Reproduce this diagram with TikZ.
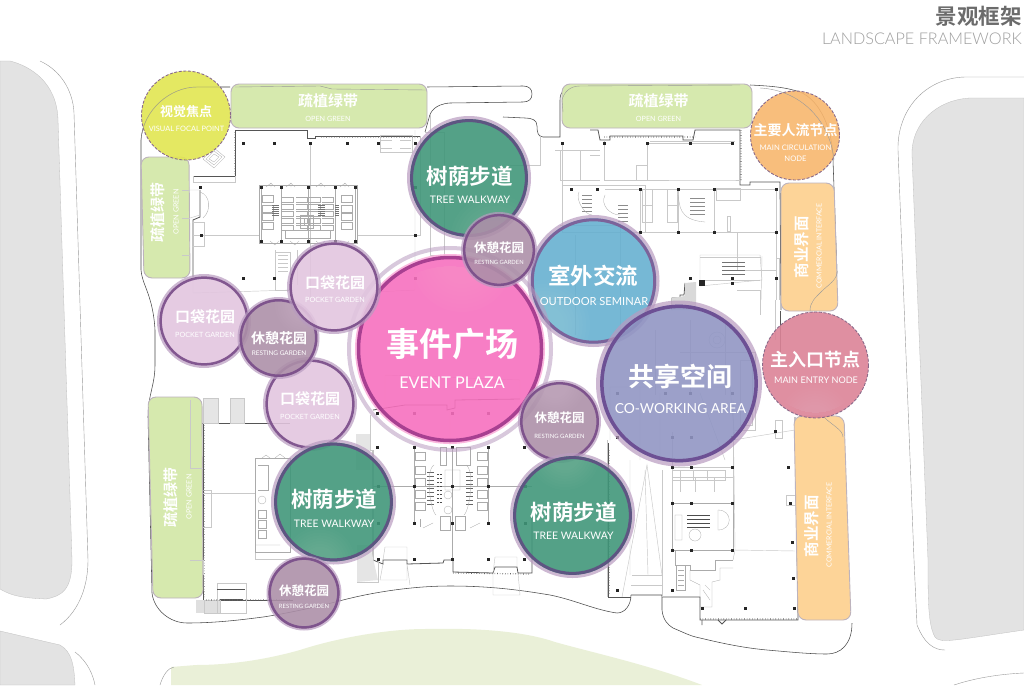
\documentclass[tikz,border=0pt]{standalone}
\usepackage{fontspec}
\newfontfamily\cjk{Noto Sans CJK SC}[BoldFont={Noto Sans CJK SC Bold}]
\newfontfamily\enf{Lato}
\newfontfamily\enl{Lato Light}
\usetikzlibrary{calc}
\definecolor{roadgray}{HTML}{E3E3E3}
\definecolor{parkgreen}{HTML}{EAF0D8}
\definecolor{plangray}{HTML}{C9C9C9}
\definecolor{wallgray}{HTML}{555555}
\definecolor{sitegray}{HTML}{4A4A4A}
\definecolor{barg}{HTML}{D6E9AE}
\definecolor{barc}{HTML}{FDD498}
\definecolor{barline}{HTML}{BDB3BD}
\definecolor{cyel}{HTML}{E2E652}
\definecolor{cora}{HTML}{F8B76E}
\definecolor{cent}{HTML}{DC8397}
\definecolor{cgrn}{HTML}{3F9679}
\definecolor{cres}{HTML}{AC8FA8}
\definecolor{cpoc}{HTML}{E2C5DF}
\definecolor{cpnk}{HTML}{F76FBE}
\definecolor{cblu}{HTML}{66B0D0}
\definecolor{cvio}{HTML}{9095C3}
\definecolor{rngv}{HTML}{7A4E8A}
\definecolor{rngg}{HTML}{5F4F82}
\definecolor{rngp}{HTML}{A23B8D}
\definecolor{rngc}{HTML}{7D5C96}
\definecolor{rngw}{HTML}{6A4A90}
\definecolor{halo}{HTML}{B89BC0}
\definecolor{dashc}{HTML}{8A6A8A}
\tikzset{
  plan/.style={draw=plangray,line width=.45pt},
  planthin/.style={draw=plangray!85!black,line width=.3pt},
  wall/.style={draw=wallgray,line width=.8pt},
  site/.style={draw=sitegray,line width=.55pt},
  sitefaint/.style={draw=gray!80,line width=.4pt},
  road/.style={fill=roadgray,draw=gray!50,line width=.3pt},
  column/.style={fill=black!85},
  bargreen/.style={fill=barg,draw=barline,line width=.9pt,rounded corners=8pt},
  barcomm/.style={fill=barc,draw=barline,line width=.9pt,rounded corners=8pt},
  zh/.style={text=white,inner sep=0pt,font=\cjk\bfseries\fontsize{#1}{#1}\selectfont},
  en/.style={text=white,inner sep=0pt,font=\enf\fontsize{#1}{#1}\selectfont},
  ttl/.style={inner sep=0pt,anchor=east}
}
% bubble: x y r fill ring ringwidth
\newcommand{\bub}[6]{%
  \fill[halo,fill opacity=.7,even odd rule] (#1,#2) circle (#3) circle (#3*.93);
  \fill[#4,fill opacity=.89] (#1,#2) circle (#3*.95);
  \draw[#5,line width=#6pt,draw opacity=.92] (#1,#2) circle (#3*.95-#6/2);
}
\newcommand{\dbub}[4]{%
  \fill[#4,fill opacity=.9] (#1,#2) circle (#3);
  \draw[dashc,line width=.9pt,dash pattern=on 3pt off 1.6pt] (#1,#2) circle (#3);
}
% soft glow clipped to circle: cx cy r gx gy gr
\newcommand{\glow}[6]{%
  \begin{scope}
    \clip (#1,#2) circle (#3*.9);
    \foreach \q in {1,.92,.84,.76,.68,.6,.52,.44}{\fill[white,fill opacity=.016] (#4,#5) circle (#6*\q);}
  \end{scope}
}
\newcommand{\colsat}[2]{\foreach \cx in {#2}{\fill[column] (\cx-1.5,#1-1.5) rectangle (\cx+1.5,#1+1.5);}}
\begin{document}
\begin{tikzpicture}[x=1pt,y=-1pt]
\useasboundingbox (0,0) rectangle (1024,685);
\fill[white] (0,0) rectangle (1024,685);

% roads and surrounding blocks
\path[road] (0,61) -- (10,61) .. controls (30,66) and (57,82) .. (58,120) -- (72,560) .. controls (72,590) and (62,596) .. (46,599) .. controls (30,598) and (15,598) .. (0,589) -- cycle;
\path[road] (0,631) -- (60,645) .. controls (72,652) and (74,665) .. (75,685) -- (0,685) -- cycle;
\path[road] (1024,98) -- (970,98) .. controls (935,100) and (911,125) .. (912,155) -- (928,560) .. controls (928,600) and (928,625) .. (935,637) .. controls (940,644) and (955,640) .. (1024,630) -- cycle;
\fill[parkgreen] (171,685) -- (171,667) -- (196,665) .. controls (225,665) and (261,661) .. (300,650) .. controls (340,637) and (390,629) .. (425,629) .. controls (470,628) and (520,630) .. (555,642) .. controls (590,652) and (650,665) .. (702,685) -- cycle;
\draw[sitefaint] (160,685) .. controls (163,675) and (168,668) .. (174,667);
\draw[sitefaint] (40,61) .. controls (60,70) and (73,90) .. (74,113) -- (88,560) .. controls (88,585) and (80,610) .. (60,625);
\draw[sitefaint] (75,652) .. controls (88,662) and (93,675) .. (95,685);
\draw[sitefaint] (1024,77) -- (965,77) .. controls (925,78) and (897,110) .. (898,150) -- (914,560) -- (917,625) .. controls (925,645) and (935,650) .. (945,650);
\draw[sitefaint] (954,685) .. controls (975,678) and (1000,674) .. (1024,673);

% site outline
\draw[site] (230,87) -- (197,87) .. controls (170,87) and (143,110) .. (141,140) -- (141,270) .. controls (142,285) and (153,295) .. (155,330) -- (155,365) .. controls (155,385) and (148,395) .. (148,417) -- (152,593) .. controls (154,610) and (170,623) .. (187,623) .. controls (215,623) and (240,620) .. (263,617) .. controls (290,613) and (320,606) .. (343,600) .. controls (370,593) and (410,586) .. (450,586) .. controls (490,586) and (520,590) .. (550,595) .. controls (575,600) and (595,610) .. (617,613) .. controls (625,613) and (631,605) .. (631,595);
\draw[site] (631,595) -- (662,595) -- (662,610) .. controls (663,620) and (668,625) .. (673,628) .. controls (685,633) and (690,636) .. (700,638) .. controls (725,644) and (745,648) .. (767,650) .. controls (790,652) and (810,654) .. (827,654) .. controls (840,654) and (852,645) .. (852,623);
\draw[site] (825,418) .. controls (832,425) and (843,430) .. (843,437);
\draw[site] (810,311) .. controls (810,302) and (815,298) .. (822,291) .. controls (828,285) and (837,280) .. (837,272) -- (833,160) .. controls (833,130) and (820,100) .. (800,92) .. controls (785,87) and (770,86) .. (750,85);
\draw[site] (573,86) .. controls (565,86) and (560,92) .. (560,100) -- (560,137) -- (543,137) .. controls (538,137) and (537,132) .. (537,126) .. controls (537,120) and (532,118) .. (525,118) -- (503,117);
\draw[site] (427,87) -- (523,86) .. controls (529,86) and (532,89) .. (532,94) .. controls (532,99) and (529,102) .. (523,102) -- (450,103) .. controls (435,104) and (430,112) .. (429,118) -- (425,132);
\draw[site] (565,86) -- (745,85);

% plan: walls
\draw[wall] (235,130) -- (307,130) -- (307,138) -- (315,138) -- (315,136) -- (420,136);
\draw[wall] (235,130) -- (235,176) -- (193,176);
\draw[plan] (193,176) -- (193,182) -- (235,182) -- (235,176);
\draw[wall] (200,190) -- (200,217) -- (193,220) -- (193,277);
\draw[wall] (590,130) -- (598,130) -- (600,140) -- (610,140) -- (610,136) -- (683,136) -- (683,140) -- (693,140) -- (695,130) -- (740,130) -- (740,185) -- (750,185) -- (750,182) -- (780,182) -- (781,310);
\draw[wall] (202,423) -- (290,423);
\draw[wall] (203,423) -- (203,600) -- (293,600);
\draw[wall] (373,450) -- (373,560) -- (383,564) -- (383,560) -- (407,560) -- (407,564) -- (443,563) -- (444,560) -- (453,560) -- (453,572) -- (493,573) -- (495,567) -- (517,567) -- (518,573) -- (532,573) -- (532,517);
\draw[wall] (608,443) -- (608,597) -- (631,597);
\draw[wall] (662,597) -- (700,597) -- (700,620) -- (798,620) -- (795,417);
\draw[wall] (780,311) -- (780,360);
\draw[wall] (685,283) -- (684,295) -- (680,295) -- (680,298) -- (672,298) -- (672,310);
\fill[gray!30] (685,283) -- (696,282) -- (696,310) -- (672,310) -- (672,298) -- (685,296) -- cycle;
% walls and rooms seen through the big bubbles
\draw[wall] (373,410) -- (405,405) -- (447,405) -- (447,410) -- (455,408) -- (455,400) -- (520,399);
\draw[plan] (385,375) -- (520,380) -- (520,399) (385,375) -- (385,405) (450,399) -- (450,445);
\draw[plan] (610,387) -- (730,387) -- (735,440) (610,387) -- (610,440) (640,387) -- (640,460) (660,393) -- (660,460) (700,393) -- (725,460);
\draw[plan] (655,330) -- (655,395) (690,320) -- (690,395) (725,320) -- (725,395);
\draw[plan] (717,340) circle (8) (717,340) circle (4);
\draw[plan] (560,225) -- (620,225) -- (620,340) (575,235) -- (575,335) (540,300) -- (620,300);
\draw[plan] (680,352) -- (755,352) -- (755,430) -- (735,430);
\draw[plan] (740,360) rectangle (752,425);

% plan: light building lines
\draw[plan] (310,143) -- (310,300);
\draw[plan] (193,235) -- (259,235) (357,235) -- (420,235) -- (420,136);
\draw[plan] (415,130) -- (415,290) -- (375,292) (293,290) -- (193,293) -- (193,277);
\draw[plan] (430,115) -- (430,255) -- (444,255) -- (444,132) -- (425,132);
\draw[plan] (430,170) -- (460,170) (510,165) -- (540,165) -- (540,135);
\draw[plan] (380,135) -- (412,135) -- (412,152) -- (380,152) -- cycle;
\draw[plan] (381,140) -- (392,140) (400,140) -- (411,140) (381,148) -- (392,148) (400,148) -- (411,148);
% left stair
\draw[planthin] (203,159) -- (214,168) -- (225,157) -- (214,148) -- cycle (206,159) -- (214,165) -- (222,157) -- (214,151) -- cycle;
\draw[planthin] (209,159) -- (214,162) -- (219,157) -- (214,154) -- cycle;
\draw[plan] (190,190) -- (200,190) -- (200,215) -- (190,218);
\draw[planthin] (200,192) .. controls (210,195) and (212,210) .. (203,218);
\draw[plan] (192,222) -- (204,222) -- (204,246) -- (192,246);
\draw[plan] (275,250) -- (275,290) -- (290,290) (276,252) -- (290,252) -- (290,290) (278,255) -- (288,255) (278,259) -- (288,259) (278,263) -- (288,263) (278,267) -- (288,267) (278,271) -- (288,271);
\draw[plan] (297,250) -- (297,285);

% upper-left core
\begin{scope}[planthin]
  \draw (259,185) rectangle (357,243);
  \draw (261,186) -- (261,241) (281,186) -- (281,241) (308,186) -- (308,241) (335,186) -- (335,241) (355,186) -- (355,241);
  \foreach \cx in {261,340}{\foreach \cy in {195,205,213,222}{\draw (\cx+1,\cy) rectangle (\cx+12,\cy+7);}}
  \foreach \cx in {282,296,309,322}{\foreach \cy in {197,204,211,218,225}{\draw (\cx,\cy) -- (\cx+11,\cy) -- (\cx+11,\cy+5) -- (\cx,\cy+5);}}
  \foreach \cx in {266,286,316,340}{\draw (\cx,187) -- (\cx+5,183) -- (\cx+9,187) (\cx+5,183) -- (\cx+5,187);}
  \foreach \cx in {270,290,316,340}{\draw (\cx,241) -- (\cx+5,245) -- (\cx+9,241);}
  \foreach \cy in {205,207,209,211,213,215}{\draw[black!55] (272,\cy) -- (279,\cy) (318,\cy) -- (325,\cy) (335,\cy) -- (339,\cy);}
  \draw (300,215) rectangle (313,228) (285,230) rectangle (330,238);
  \draw (304,218) rectangle (309,225);
\end{scope}

% upper-right building
\begin{scope}[plan]
  \draw (562,143) -- (562,215) (555,150) -- (600,150);
  \draw (560,180) -- (600,180) (560,150) -- (560,180) (580,150) -- (580,180) (590,155) -- (600,155);
  \draw (604,140) -- (604,180) -- (647,180) (647,143) -- (647,180) -- (690,180) -- (732,180) -- (740,180);
  \draw (650,141) -- (735,141) (647,143) -- (732,143);
  \draw (636,165) rectangle (647,180);
  \draw (562,185) rectangle (645,232);
  \draw (605,189) -- (640,189) -- (640,232) -- (678,232) -- (678,189) -- (640,189);
  \draw (642,189) rectangle (652,205) (642,205) rectangle (652,222) (667,189) rectangle (677,205) (667,205) rectangle (677,222);
  \draw (678,189) rectangle (714,232);
  \draw (714,189) -- (776,189) -- (776,232) -- (714,232);
  \draw (716,200) rectangle (740,188) (730,216) rectangle (727,231);
  \draw (737,232) -- (737,270) -- (776,270) -- (776,232);
  \draw (700,255) -- (760,255) -- (762,280) -- (700,286) -- cycle;
  \draw (700,257) -- (761,257) (700,280) -- (760,280);
  \draw (762,256) -- (761,300);
\end{scope}
\begin{scope}[planthin]
  \foreach \cy in {195,199,203,207,211}{\draw[black!45] (582,\cy) -- (592,\cy) (618,\cy+10) -- (628,\cy+10) (690,\cy+3) -- (705,\cy+3);}
  \draw (579,192) .. controls (575,200) and (585,215) .. (592,215);
  \draw (605,195) .. controls (600,205) and (610,215) .. (620,215);
  \draw (678,195) .. controls (680,205) and (678,220) .. (705,222);
  \draw[black!55] (722,262) -- (745,262) (722,266) -- (745,266) (722,270) -- (745,270) (722,274) -- (745,274);
\end{scope}
\draw[plan] (776,256) -- (776,300) (777,258) -- (779,258) -- (779,300);
\draw[plan] (775,300) -- (775,340);
\draw[plan] (737,290) -- (760,290) -- (760,315);

% lower-left building
\begin{scope}[plan]
  \fill[gray!20] (203,399) rectangle (218,423) (230,399) rectangle (244,423);
  \fill[gray!25] (196,600) rectangle (220,613);
  \draw (203,398) rectangle (218,423) (230,398) rectangle (244,423);
  \draw (203,493) -- (255,493) -- (255,559) -- (330,559);
  \draw (203,490) -- (211,490) -- (211,527) -- (203,527);
  \draw (217,583) rectangle (246,613);
  \fill[gray!20] (356,434) -- (370,434) -- (370,470) -- (356,470) -- cycle;
  \fill[gray!20] (357,545) -- (370,545) -- (378,580) -- (357,582) -- cycle;
  \draw (373,450) -- (370,450) -- (370,415) (357,582) -- (378,582) -- (378,560);
  \draw (204,600) rectangle (220,613);
\end{scope}
\draw[wall] (217,589) -- (245,589) (220,599) -- (243,599);
\begin{scope}[planthin]
  \draw (255,458) rectangle (290,552);
  \foreach \cy in {510,520,530}{\draw (258,\cy) rectangle (266,\cy+8);}
  \draw (258,465) -- (268,465) -- (268,490) -- (258,490);
  \draw (256,545) -- (280,545) (262,458) -- (266,455) -- (270,458) (275,458) -- (280,454) -- (285,458);
  \draw (262,500) circle (4);
\end{scope}

% lower-center core
\begin{scope}[planthin]
  \draw (414,446) -- (414,523) (488,446) -- (488,523) (452,446) -- (452,560);
  \draw (373,486) -- (532,486);
  \foreach \cx in {415,477}{\foreach \cy in {452,466,478,490,502}{\draw (\cx,\cy) rectangle (\cx+10,\cy+8);}}
  \foreach \cy in {472,476,480,484,488,492,496,500,504}{\draw[black!60] (427,\cy) -- (434,\cy) (466,\cy) -- (473,\cy);}
  \foreach \cy in {474,478,482,486,490,494,498,502}{\draw[black!70,densely dotted] (437,\cy) -- (441,\cy);}
  \draw (434,465) .. controls (425,470) and (430,510) .. (436,515);
  \draw (466,465) .. controls (475,470) and (470,510) .. (464,515);
  \draw (445,470) rectangle (460,490) (448,495) circle (4) (448,510) circle (4);
  \draw (440,447) rectangle (446,465) (456,447) rectangle (470,465);
  \draw (420,519) -- (420,527) (440,516) rectangle (450,530) (455,516) rectangle (465,530);
  \draw (423,528) -- (433,523) (470,528) -- (480,523);
\end{scope}
\draw[plan] (383,560) -- (385,547) -- (407,547) -- (407,560) (380,580) -- (407,580) -- (407,564) (380,580) -- (383,564) (407,564) -- (410,585);
\draw[plan] (493,573) -- (495,557) -- (517,557) -- (517,567) (493,573) -- (493,595) -- (520,595) -- (518,573);

% lower-right building
\begin{scope}[plan]
  \draw (607,440) -- (607,597) (662,470) -- (662,597);
  \draw (630,460) -- (630,575) (645,470) -- (648,575);
  \draw (632,575) -- (662,575) (631,585) -- (662,585);
  \draw (622,597) -- (647,465) -- (662,575);
  \draw (672,432) -- (672,550) (733,432) -- (733,550);
  \draw (672,467) -- (733,467) (672,477) rectangle (733,503);
  \draw (680,477) -- (680,492) (695,477) -- (695,492) (714,477) -- (714,492);
  \draw (733,400) -- (735,550) -- (795,551);
  \draw (672,470) rectangle (725,480) (680,470) -- (680,480) (693,470) -- (693,480) (707,470) -- (707,480);
  \draw (733,440) -- (795,430);
  \draw (775,420) rectangle (782,438);
  \draw (786,495) rectangle (795,505);
\end{scope}
\begin{scope}[planthin]
  \draw (672,503) -- (733,503) -- (733,550) -- (672,550) -- cycle;
  \draw (718,510) .. controls (733,510) and (733,530) .. (718,530) -- (718,510);
  \foreach \cy in {515,519,523,527}{\draw[black!70] (687,\cy) -- (710,\cy);}
  \draw (695,535) circle (6) (675,515) rectangle (682,540);
  \draw (675,550) -- (675,565) -- (690,565) -- (690,570) -- (715,570) -- (715,560) -- (733,560);
  \draw (676,565) rectangle (685,590);
  \draw (678,570) -- (684,570) (678,575) -- (684,575) (678,580) -- (684,580) (678,585) -- (684,585);
  \draw (690,570) -- (690,580) -- (700,585) -- (700,607) -- (712,607) -- (712,582) -- (720,580);
  \draw (703,590) -- (710,600) (705,585) -- (710,590);
  \draw (720,580) -- (720,568) -- (733,568) (733,560) -- (735,550);
\end{scope}
\draw[wall] (702,620) -- (702,625) (718,620) -- (722,624) -- (726,620);

% columns
\colsat{143}{243,274,310,347,378,415,562,604,647,690,732}
\colsat{187}{200,261,281,308,335,355,415}
\colsat{189}{571,597,640,678,714,776}
\colsat{232}{640,678,714,776}
\colsat{235}{201,415}
\colsat{241}{261,281,308,335,355}
\colsat{278}{243,274,415,690,732,776}
\colsat{283}{732}
\fill[column] (699,280) rectangle (705,286);
\colsat{393}{617,665,690,732}
\colsat{437}{617,672,691,732}
\colsat{431}{775}
\colsat{413}{377,414,452,488}
\colsat{447}{377,414,452,488,524}
\colsat{486}{378,414,452,488,525}
\colsat{523}{378,414,452,488,525}
\colsat{559}{378,414,452,488,524}
\colsat{467}{672,691,732,788}
\colsat{503}{672,691,732,790}
\colsat{550}{672,691,732}
\colsat{542}{792}
\colsat{578}{793}
\colsat{590}{617,672}
\colsat{608}{702,745,794}
% dark teeth along walls
\draw[black!60,line width=1.2pt,dash pattern=on .6pt off 2pt] (235,132) -- (235,176) (321,137) -- (420,137) (604,137) -- (695,137) (741,130) -- (741,180) (204,425) -- (204,598) (609,450) -- (609,595) (700,619) -- (798,619) (206,600) -- (290,600) (453,573) -- (530,574);

% bars
\path[bargreen] (231,84) -- (427,84) -- (427,128) -- (231,128) -- cycle;
\path[bargreen] (562,84) -- (752,84) -- (752,128) -- (562,128) -- cycle;
\path[bargreen] (141,157) -- (189,157) -- (190,278) -- (144,278) -- cycle;
\path[bargreen] (148,397) -- (202,397) -- (203,598) -- (153,598) -- cycle;
\path[barcomm] (781,183) -- (834,183) -- (838,311) -- (781,311) -- cycle;
\path[barcomm] (794,416) -- (844,416) -- (851,620) -- (798,620) -- cycle;

% line over bars
\draw[sitefaint] (235,87) -- (320,86) -- (332,89) -- (427,90);
\draw[sitefaint] (563,112) -- (562,100) .. controls (564,92) and (570,86) .. (580,86) -- (740,85);
\draw[sitefaint] (810,311) .. controls (810,302) and (815,298) .. (822,291) .. controls (828,285) and (837,280) .. (837,272);
\draw[sitefaint] (825,418) .. controls (832,425) and (843,430) .. (843,437);
\draw[plan] (190,190) -- (182,190) (190,218) -- (182,218) (190,255) -- (182,255);
\draw[plan] (190,400) -- (190,468) -- (203,468) (190,560) -- (203,560) -- (203,575);

% bubbles
\dbub{186}{115.5}{44.5}{cyel}
\draw[sitefaint] (230,87) -- (197,87) .. controls (170,87) and (143,110) .. (141,140);
\dbub{795}{135.5}{44.5}{cora}
\draw[sitefaint] (760,88) .. controls (800,90) and (830,120) .. (834,160);
\bub{469}{178}{62}{cgrn}{rngg}{3}
\glow{469}{178}{62}{495}{240}{45}
\bub{593.5}{281}{66}{cblu}{rngc}{3}
\glow{593.5}{281}{66}{545}{325}{45}
\fill[halo,fill opacity=.55,even odd rule] (450,349) circle (103) circle (99);
\fill[cpnk!55,fill opacity=.9,even odd rule] (450,349) circle (95) circle (92);
\fill[cpnk,fill opacity=.89] (450,349) circle (93);
\draw[rngp,line width=3.5pt,draw opacity=.92] (450,349) circle (91.5);
\glow{450}{349}{92}{462}{262}{50}
\bub{679}{383.5}{83}{cvio}{rngw}{3.5}
\bub{559.5}{421.5}{41.5}{cres}{rngv}{2.5}
\glow{559.5}{421.5}{41.5}{555}{385}{30}
\bub{572.5}{515.5}{62.5}{cgrn}{rngg}{3}
\glow{572.5}{515.5}{62.5}{565}{455}{35}
\bub{499}{250}{38}{cres}{rngv}{2.5}
\bub{204}{321}{47}{cpoc}{rngv}{2.5}
\bub{310}{404}{47}{cpoc}{rngv}{2.5}
\bub{278.5}{338}{41}{cres}{rngv}{2.5}
\glow{278.5}{338}{41}{305}{305}{30}
\bub{334}{287}{47}{cpoc}{rngv}{2.5}
\bub{333.5}{502}{62.5}{cgrn}{rngg}{3}
\glow{333.5}{502}{62.5}{320}{562}{35}
\bub{304}{593}{37.5}{cres}{rngv}{2.5}
\dbub{815.5}{365}{53}{cent}
\glow{815.5}{365}{53}{815}{420}{35}

% title
\node[ttl,text=black!58,font=\cjk\bfseries\fontsize{21.5}{21.5}\selectfont] (titleZh) at (1022,16) {景观框架};
\node[ttl,text=black!38,font=\enl\fontsize{16.2}{16.2}\selectfont] (titleEn) at (1022,39) {LANDSCAPE FRAMEWORK};

% labels
\node[zh=13] (lYelZ) at (186,112) {视觉焦点};
\node[en=7.4] (lYelE) at (186.5,129) {VISUAL FOCAL POINT};
\node[zh=14] (lOraZ) at (795.5,130) {主要人流节点};
\node[en=7.6] (lOraE) at (795.5,148) {MAIN CIRCULATION};
\node[en=7.6] (lOraF) at (795.5,159) {NODE};
\node[zh=18] (lEntZ) at (815.5,360) {主入口节点};
\node[en=9.1] (lEntE) at (816,380) {MAIN ENTRY NODE};
\node[zh=33] (lPlzZ) at (452,344) {事件广场};
\node[en=16.2] (lPlzE) at (452,383) {EVENT PLAZA};
\node[zh=22.5] (lOutZ) at (593,276) {室外交流};
\node[en=11.1] (lOutE) at (594,302) {OUTDOOR SEMINAR};
\node[zh=26] (lCowZ) at (680.5,376) {共享空间};
\node[en=13.8] (lCowE) at (680.5,409) {CO-WORKING AREA};
\node[zh=21.5] (lTr1Z) at (469.5,176) {树荫步道};
\node[en=10.4] (lTr1E) at (470,200) {TREE WALKWAY};
\node[zh=21.5] (lTr2Z) at (334,499) {树荫步道};
\node[en=10.4] (lTr2E) at (334,524) {TREE WALKWAY};
\node[zh=21.5] (lTr3Z) at (573.5,512) {树荫步道};
\node[en=10.4] (lTr3E) at (573.5,536) {TREE WALKWAY};
\node[zh=12.5] (lRe1Z) at (499,248) {休憩花园};
\node[en=5.8] (lRe1E) at (499,262) {RESTING GARDEN};
\node[zh=14] (lRe2Z) at (279,338) {休憩花园};
\node[en=6.4] (lRe2E) at (279,353) {RESTING GARDEN};
\node[zh=12.5] (lRe3Z) at (559.5,418) {休憩花园};
\node[en=5.9] (lRe3E) at (559.5,436) {RESTING GARDEN};
\node[zh=12.5] (lRe4Z) at (304,591) {休憩花园};
\node[en=5.9] (lRe4E) at (304,606) {RESTING GARDEN};
\node[zh=15] (lPo1Z) at (335,283) {口袋花园};
\node[en=7.2] (lPo1E) at (335,300) {POCKET GARDEN};
\node[zh=15] (lPo2Z) at (205,317) {口袋花园};
\node[en=7.2] (lPo2E) at (205,335) {POCKET GARDEN};
\node[zh=15] (lPo3Z) at (310,399) {口袋花园};
\node[en=7.2] (lPo3E) at (310,417) {POCKET GARDEN};
\node[zh=15] (lGr1Z) at (328,101) {疏植绿带};
\node[en=7.2] (lGr1E) at (328,119) {OPEN GREEN};
\node[zh=15] (lGr2Z) at (658.5,101) {疏植绿带};
\node[en=7.2] (lGr2E) at (658.5,119) {OPEN GREEN};
\node[zh=15,rotate=90] (lGr3Z) at (158,212) {疏植绿带};
\node[en=7.2,rotate=90] (lGr3E) at (176,212) {OPEN GREEN};
\node[zh=15,rotate=90] (lGr4Z) at (171,497) {疏植绿带};
\node[en=7.2,rotate=90] (lGr4E) at (189,497) {OPEN GREEN};
\node[zh=15.5,rotate=90] (lCo1Z) at (802,247) {商业界面};
\node[en=7,rotate=90] (lCo1E) at (819,246) {COMMERCIAL INTERFACE};
\node[zh=15.5,rotate=90] (lCo2Z) at (812,526) {商业界面};
\node[en=7,rotate=90] (lCo2E) at (829,525) {COMMERCIAL INTERFACE};
\end{tikzpicture}
\end{document}
